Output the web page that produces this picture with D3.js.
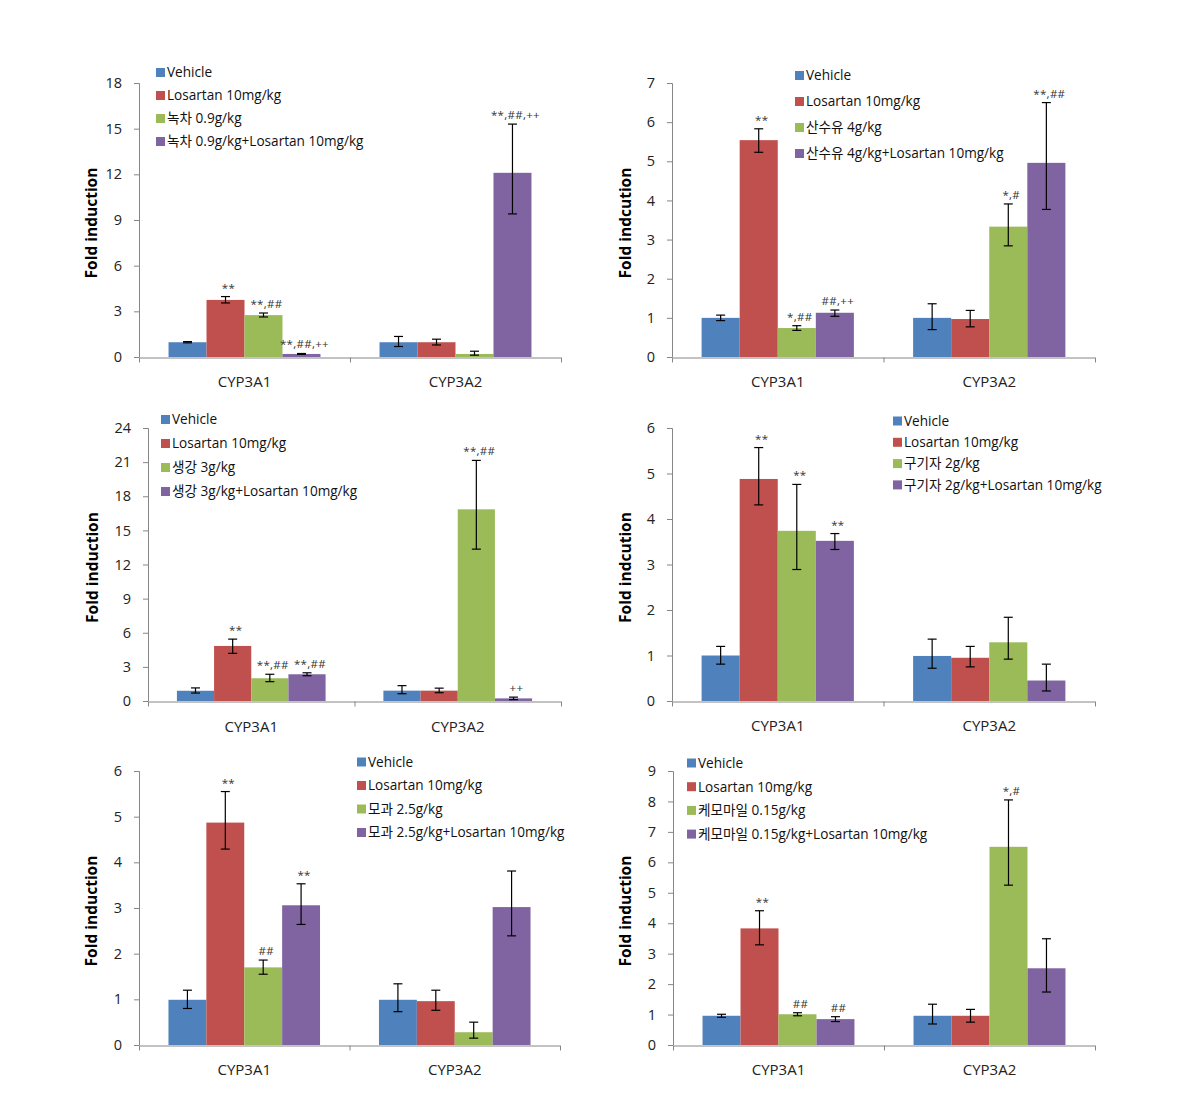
<!DOCTYPE html>
<html>
<head>
<meta charset="utf-8">
<script src="https://cdn.jsdelivr.net/npm/d3@7"></script>
<style>
  html, body { margin: 0; padding: 0; background: #fff; }
  svg text { font-family: "Open Sans", "Noto Sans CJK KR", sans-serif; }
</style>
</head>
<body>
<svg id="chart" width="1200" height="1099"></svg>
<script>
// ---------------- DATA ----------------
const categories = ["CYP3A1", "CYP3A2"];
const seriesColors = ["#4F81BD", "#C0504D", "#9BBB59", "#8064A2"];

// Panel 1 – 녹차
const p1Legend = ["Vehicle", "Losartan 10mg/kg", "녹차 0.9g/kg", "녹차 0.9g/kg+Losartan 10mg/kg"];
const p1Values = [[0.97, 3.75, 2.75, 0.2], [0.97, 0.97, 0.2, 12.1]];
const p1ErrUp = [[0.04, 0.22, 0.14, 0.03], [0.38, 0.2, 0.18, 3.2]];
const p1ErrDown = [[0.04, 0.2, 0.12, 0.03], [0.28, 0.18, 0.08, 2.7]];
const p1Marks = [["", "**", "**,##", "**,##,++"], ["", "", "", "**,##,++"]];
const p1Ticks = [0, 3, 6, 9, 12, 15, 18];
const p1YLabel = "Fold induction";

// Panel 2 – 산수유
const p2Legend = ["Vehicle", "Losartan 10mg/kg", "산수유 4g/kg", "산수유 4g/kg+Losartan 10mg/kg"];
const p2Values = [[1.0, 5.54, 0.74, 1.13], [1.0, 0.97, 3.33, 4.96]];
const p2ErrUp = [[0.07, 0.29, 0.06, 0.07], [0.36, 0.22, 0.58, 1.54]];
const p2ErrDown = [[0.07, 0.31, 0.06, 0.09], [0.3, 0.2, 0.49, 1.19]];
const p2Marks = [["", "**", "*,##", "##,++"], ["", "", "*,#", "**,##"]];
const p2Ticks = [0, 1, 2, 3, 4, 5, 6, 7];
const p2YLabel = "Fold indcution";

// Panel 3 – 생강
const p3Legend = ["Vehicle", "Losartan 10mg/kg", "생강 3g/kg", "생강 3g/kg+Losartan 10mg/kg"];
const p3Values = [[0.9, 4.84, 2.0, 2.35], [0.91, 0.91, 16.85, 0.23]];
const p3ErrUp = [[0.25, 0.6, 0.35, 0.13], [0.44, 0.22, 4.3, 0.11]];
const p3ErrDown = [[0.2, 0.65, 0.3, 0.13], [0.27, 0.18, 3.5, 0.11]];
const p3Marks = [["", "**", "**,##", "**,##"], ["", "", "**,##", "++"]];
const p3Ticks = [0, 3, 6, 9, 12, 15, 18, 21, 24];
const p3YLabel = "Fold induction";

// Panel 4 – 구기자
const p4Legend = ["Vehicle", "Losartan 10mg/kg", "구기자 2g/kg", "구기자 2g/kg+Losartan 10mg/kg"];
const p4Values = [[1.0, 4.88, 3.74, 3.52], [0.99, 0.95, 1.29, 0.45]];
const p4ErrUp = [[0.2, 0.69, 1.02, 0.16], [0.37, 0.25, 0.55, 0.36]];
const p4ErrDown = [[0.19, 0.57, 0.85, 0.19], [0.27, 0.2, 0.37, 0.23]];
const p4Marks = [["", "**", "**", "**"], ["", "", "", ""]];
const p4Ticks = [0, 1, 2, 3, 4, 5, 6];
const p4YLabel = "Fold indcution";

// Panel 5 – 모과
const p5Legend = ["Vehicle", "Losartan 10mg/kg", "모과 2.5g/kg", "모과 2.5g/kg+Losartan 10mg/kg"];
const p5Values = [[0.99, 4.87, 1.7, 3.06], [0.99, 0.96, 0.28, 3.02]];
const p5ErrUp = [[0.21, 0.68, 0.16, 0.47], [0.35, 0.24, 0.22, 0.79]];
const p5ErrDown = [[0.19, 0.58, 0.15, 0.42], [0.26, 0.2, 0.13, 0.63]];
const p5Marks = [["", "**", "##", "**"], ["", "", "", ""]];
const p5Ticks = [0, 1, 2, 3, 4, 5, 6];
const p5YLabel = "Fold induction";

// Panel 6 – 케모마일
const p6Legend = ["Vehicle", "Losartan 10mg/kg", "케모마일 0.15g/kg", "케모마일 0.15g/kg+Losartan 10mg/kg"];
const p6Values = [[0.96, 3.83, 1.01, 0.85], [0.96, 0.96, 6.51, 2.52]];
const p6ErrUp = [[0.05, 0.58, 0.05, 0.08], [0.38, 0.21, 1.54, 0.97]];
const p6ErrDown = [[0.05, 0.54, 0.05, 0.08], [0.27, 0.21, 1.26, 0.78]];
const p6Marks = [["", "**", "##", "##"], ["", "", "*,#", ""]];
const p6Ticks = [0, 1, 2, 3, 4, 5, 6, 7, 8, 9];
const p6YLabel = "Fold induction";

// ---------------- LAYOUT ----------------
const layouts = [
  { x0: 139, x1: 561, y0: 357, yTop: 83, legX: 156, legY: 72.5, legDy: 23, ylx: 92, catY: 382 },
  { x0: 672, x1: 1095, y0: 357, yTop: 83, legX: 795, legY: 75.5, legDy: 26, ylx: 626, catY: 382 },
  { x0: 148, x1: 561, y0: 701, yTop: 428, legX: 161, legY: 419.5, legDy: 24, ylx: 93, catY: 727 },
  { x0: 672, x1: 1095, y0: 701, yTop: 428, legX: 893, legY: 421, legDy: 21.3, ylx: 626, catY: 726 },
  { x0: 139, x1: 560, y0: 1045, yTop: 771, legX: 357, legY: 762, legDy: 23.5, ylx: 92, catY: 1070 },
  { x0: 673, x1: 1095, y0: 1045, yTop: 771, legX: 687, legY: 763, legDy: 23.7, ylx: 626, catY: 1070 }
];

const panels = [
  [p1Legend, p1Values, p1ErrUp, p1ErrDown, p1Marks, p1Ticks, p1YLabel],
  [p2Legend, p2Values, p2ErrUp, p2ErrDown, p2Marks, p2Ticks, p2YLabel],
  [p3Legend, p3Values, p3ErrUp, p3ErrDown, p3Marks, p3Ticks, p3YLabel],
  [p4Legend, p4Values, p4ErrUp, p4ErrDown, p4Marks, p4Ticks, p4YLabel],
  [p5Legend, p5Values, p5ErrUp, p5ErrDown, p5Marks, p5Ticks, p5YLabel],
  [p6Legend, p6Values, p6ErrUp, p6ErrDown, p6Marks, p6Ticks, p6YLabel]
];

const svg = d3.select("#chart");
svg.append("rect").attr("width", 1200).attr("height", 1099).attr("fill", "#fff");

const axisColor = "#868686";

panels.forEach((p, i) => {
  const [legend, values, errUp, errDown, marks, ticks, ylabel] = p;
  const L = layouts[i];
  const g = svg.append("g");

  const y = d3.scaleLinear().domain([0, d3.max(ticks)]).range([L.y0, L.yTop]);
  const xCat = d3.scaleBand().domain(categories).range([L.x0, L.x1]).paddingInner(0).paddingOuter(0);
  const groupFrac = 0.72;
  const gw = xCat.bandwidth() * groupFrac;
  const off = (xCat.bandwidth() - gw) / 2;
  const xSer = d3.scaleBand().domain(d3.range(legend.length)).range([off, off + gw]).padding(0);

  // Y axis
  const yAxis = d3.axisLeft(y).tickValues(ticks).tickSize(5).tickPadding(12).tickFormat(d3.format("d"));
  const ya = g.append("g").attr("transform", `translate(${L.x0},0)`).call(yAxis);
  ya.select(".domain").attr("stroke", axisColor).attr("d", `M-5,${L.yTop + 0.5}H0.5V${L.y0}`);
  ya.selectAll(".tick line").attr("stroke", axisColor);
  ya.selectAll(".tick text").attr("fill", "#222").style("font-size", "14.5px")
    .style("font-family", "'Open Sans', sans-serif");

  // X axis (boundary ticks)
  const xb = d3.scaleLinear().domain([0, categories.length]).range([L.x0, L.x1]);
  const xAxis = d3.axisBottom(xb).tickValues(d3.range(categories.length + 1)).tickSize(5).tickFormat("");
  const xa = g.append("g").attr("transform", `translate(0,${L.y0 + 0.5})`).call(xAxis);
  xa.select(".domain").attr("stroke", axisColor).attr("d", `M${L.x0},0.5H${L.x1}`);
  xa.selectAll(".tick line").attr("stroke", axisColor);

  // Category labels
  g.selectAll(".cat").data(categories).enter().append("text")
    .attr("x", d => xCat(d) + xCat.bandwidth() / 2)
    .attr("y", L.catY + 5)
    .attr("text-anchor", "middle")
    .attr("fill", "#222")
    .style("font-size", "15px")
    .text(d => d);

  // Bars
  const flat = [];
  categories.forEach((c, ci) => {
    values[ci].forEach((v, si) => {
      flat.push({ c, si, v, up: errUp[ci][si], dn: errDown[ci][si], mark: marks[ci][si] });
    });
  });

  g.selectAll(".bar").data(flat).enter().append("rect")
    .attr("x", d => xCat(d.c) + xSer(d.si))
    .attr("width", xSer.bandwidth())
    .attr("y", d => y(d.v))
    .attr("height", d => y(0) - y(d.v))
    .attr("fill", d => seriesColors[d.si]);

  // Error bars
  const eb = g.selectAll(".err").data(flat).enter().append("g");
  const cx = d => xCat(d.c) + xSer(d.si) + xSer.bandwidth() / 2;
  eb.append("line")
    .attr("x1", cx).attr("x2", cx)
    .attr("y1", d => y(d.v + d.up)).attr("y2", d => y(d.v - d.dn))
    .attr("stroke", "#000").attr("stroke-width", 1.2);
  eb.append("line")
    .attr("x1", d => cx(d) - 4.5).attr("x2", d => cx(d) + 4.5)
    .attr("y1", d => y(d.v + d.up)).attr("y2", d => y(d.v + d.up))
    .attr("stroke", "#000").attr("stroke-width", 1.2);
  eb.append("line")
    .attr("x1", d => cx(d) - 4.5).attr("x2", d => cx(d) + 4.5)
    .attr("y1", d => y(d.v - d.dn)).attr("y2", d => y(d.v - d.dn))
    .attr("stroke", "#000").attr("stroke-width", 1.2);

  // Significance marks
  g.selectAll(".mark").data(flat.filter(d => d.mark)).enter().append("text")
    .attr("x", d => cx(d) + 3)
    .attr("y", d => y(d.v + d.up) - 5)
    .attr("text-anchor", "middle")
    .attr("fill", "#333")
    .style("font-size", "11.5px")
    .style("letter-spacing", "0.3px")
    .text(d => d.mark);

  // Y label
  g.append("text")
    .attr("transform", `translate(${L.ylx + 5},${(L.y0 + L.yTop) / 2 + 3}) rotate(-90)`)
    .attr("text-anchor", "middle")
    .attr("fill", "#000")
    .style("font-size", "15.5px")
    .style("font-weight", "bold")
    .text(ylabel);

  // Legend
  const lg = g.selectAll(".leg").data(legend).enter().append("g")
    .attr("transform", (d, k) => `translate(${L.legX},${L.legY + k * L.legDy})`);
  lg.append("rect").attr("x", 0).attr("y", -4.5).attr("width", 9).attr("height", 9)
    .attr("fill", (d, k) => seriesColors[k]);
  lg.append("text").attr("x", 11).attr("y", 4.8)
    .attr("fill", "#111")
    .style("font-size", "13.6px")
    .text(d => d);
});
</script>
</body>
</html>
